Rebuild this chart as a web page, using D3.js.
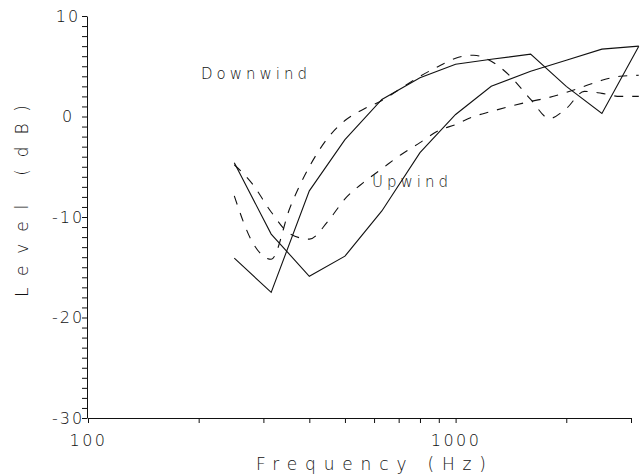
<!DOCTYPE html>
<html>
<head>
<meta charset="utf-8">
<script src="https://cdn.jsdelivr.net/npm/d3@7"></script>
<style>
  html, body { margin: 0; padding: 0; background: #fff; }
  svg { display: block; }
  text { font-family: "DejaVu Sans ExtraLight", "DejaVu Sans Light", "DejaVu Sans", sans-serif; fill: #111; }
</style>
</head>
<body>
<svg id="chart" width="640" height="476"></svg>
<script>
// Measured levels at 1/3-octave band centres (solid lines)
const bandFreq = [250, 315, 400, 500, 630, 800, 1000, 1250, 1600, 2000, 2500, 3150];
const upwindMeasured   = [-4.6, -11.7, -15.9, -13.9, -9.4, -3.6, 0.2, 3.0, 4.5, 5.6, 6.7, 7.0];
const downwindMeasured = [-14.1, -17.5, -7.4, -2.3, 1.7, 3.85, 5.2, 5.7, 6.2, 3.0, 0.3, 7.0];

// Predicted curves (dashed lines), read at finer frequency spacing
const predFreq = [250, 280, 315, 355, 400, 450, 500, 560, 630, 710, 800, 900, 1000, 1120, 1250, 1400, 1600, 1800, 2000, 2240, 2500, 2800, 3150];
const downwindPredicted = [-7.9, -12.5, -14.2, -9.0, -5.0, -2.1, -0.4, 0.7, 1.6, 2.8, 4.0, 5.0, 5.8, 6.1, 5.5, 4.1, 1.7, -0.2, 0.8, 2.5, 2.3, 2.0, 2.0];
const upwindPredicted   = [-4.8, -6.7, -9.5, -11.7, -12.2, -10.4, -8.2, -6.6, -5.2, -3.8, -2.6, -1.4, -0.8, 0.0, 0.5, 1.0, 1.5, 1.9, 2.4, 3.0, 3.6, 4.0, 4.1];

// Axis ticks
const xTicks = [100, 200, 300, 400, 500, 600, 700, 800, 900, 1000, 2000, 3000];
const xTickLabels = [100, 1000];
const yTicks = d3.range(-30, 11, 1);
const yTickLabels = [-30, -20, -10, 0, 10];

const labels = { downwind: "Downwind", upwind: "Upwind", xTitle: "Frequency (Hz)", yTitle: "Level (dB)" };

const svg = d3.select("#chart");
const x = d3.scaleLog().domain([100, 3000]).range([88, 631]);
const y = d3.scaleLinear().domain([-30, 10]).range([418, 16]);

// X axis
const gx = svg.append("g").attr("transform", "translate(0,418)")
  .call(d3.axisBottom(x).tickValues(xTicks).tickSize(5).tickSizeOuter(0)
    .tickFormat(d => xTickLabels.includes(d) ? String(d) : ""));
gx.select(".domain").attr("stroke", "#111");
gx.selectAll(".tick line").attr("stroke", "#111");
gx.selectAll(".tick text").attr("y", 28).attr("dy", "0").attr("font-size", 16)
  .attr("letter-spacing", "2.5px").attr("fill", "#111");

// Y axis
const gy = svg.append("g").attr("transform", "translate(87,0)")
  .call(d3.axisLeft(y).tickValues(yTicks).tickSize(5).tickSizeOuter(0)
    .tickFormat(d => yTickLabels.includes(d) ? String(d) : ""));
gy.select(".domain").attr("stroke", "#111");
gy.selectAll(".tick line").attr("stroke", "#111");
gy.selectAll(".tick text").attr("x", -19).attr("text-anchor", "middle")
  .attr("font-size", 16).attr("letter-spacing", "2px").attr("fill", "#111");

// Lines
const lineSolid = d3.line().x(d => x(d[0])).y(d => y(d[1]));
const lineSmooth = d3.line().x(d => x(d[0])).y(d => y(d[1])).curve(d3.curveMonotoneX);

const solidSeries = [upwindMeasured, downwindMeasured];
solidSeries.forEach(vals => {
  svg.append("path").datum(bandFreq.map((f, i) => [f, vals[i]]))
    .attr("d", lineSolid).attr("fill", "none").attr("stroke", "#111").attr("stroke-width", 1.1);
});
const dashedSeries = [downwindPredicted, upwindPredicted];
dashedSeries.forEach(vals => {
  svg.append("path").datum(predFreq.map((f, i) => [f, vals[i]]))
    .attr("d", lineSmooth).attr("fill", "none").attr("stroke", "#111")
    .attr("stroke-width", 1.1).attr("stroke-dasharray", "9,9");
});

// Labels
svg.append("text").attr("x", 201).attr("y", 79).attr("font-size", 15)
  .attr("textLength", 106).attr("lengthAdjust", "spacing").text(labels.downwind);
svg.append("text").attr("x", 372).attr("y", 187).attr("font-size", 15)
  .attr("textLength", 76).attr("lengthAdjust", "spacing").text(labels.upwind);
svg.append("text").attr("x", 256).attr("y", 470).attr("font-size", 17)
  .attr("textLength", 230).attr("lengthAdjust", "spacing").text(labels.xTitle);
svg.append("text").attr("transform", "translate(28,297) rotate(-90)").attr("font-size", 17)
  .attr("textLength", 192).attr("lengthAdjust", "spacing").text(labels.yTitle);
</script>
</body>
</html>
